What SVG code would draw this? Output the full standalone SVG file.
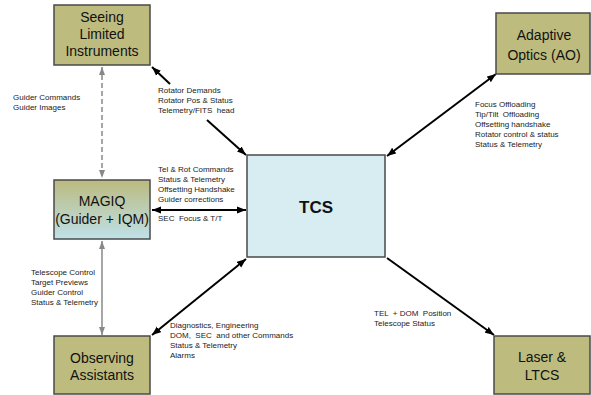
<svg xmlns="http://www.w3.org/2000/svg" width="591" height="395" viewBox="0 0 591 395">
<style>
.box{stroke:#4a4a4a;stroke-width:1.5}
.olive{fill:#bdbc7e}
.nt{font-family:"Liberation Sans",Arial,sans-serif;font-size:14px;fill:#111;text-anchor:middle}
.lb{font-family:"Liberation Sans",Arial,sans-serif;font-size:8px;fill:#222}
.blk{stroke:#000;stroke-width:2;fill:none}
.gry{stroke:#888;stroke-width:1.5;fill:none}
</style>
<defs>
<linearGradient id="gMagiq" x1="0" y1="0" x2="0" y2="1">
<stop offset="0" stop-color="#bbba7f"/>
<stop offset="1" stop-color="#bfe1e9"/>
</linearGradient>
<marker id="ab" markerUnits="userSpaceOnUse" markerWidth="10" markerHeight="8" refX="9" refY="4" orient="auto-start-reverse">
<path d="M0,0.5 L9,4 L0,7.5 z" fill="#000"/>
</marker>
<marker id="ag" markerUnits="userSpaceOnUse" markerWidth="8" markerHeight="8" refX="8" refY="3.5" orient="auto-start-reverse">
<path d="M0,0.5 L8,3.5 L0,6.5 z" fill="#888"/>
</marker>
</defs>
<rect width="591" height="395" fill="#fff"/>

<g id="connectors">
<line class="gry" x1="102" y1="67" x2="102" y2="178" stroke-dasharray="5,3" marker-start="url(#ag)" marker-end="url(#ag)"/>
<line class="gry" x1="102" y1="241" x2="102" y2="335" marker-start="url(#ag)" marker-end="url(#ag)"/>
<line class="blk" x1="170" y1="84" x2="152" y2="67" marker-end="url(#ab)"/>
<line class="blk" x1="207" y1="120" x2="246" y2="155" marker-end="url(#ab)"/>
<line class="blk" x1="152" y1="210" x2="246" y2="210" marker-start="url(#ab)" marker-end="url(#ab)"/>
<line class="blk" x1="152" y1="335" x2="246" y2="259" marker-start="url(#ab)" marker-end="url(#ab)"/>
<line class="blk" x1="387" y1="156" x2="496" y2="74" marker-start="url(#ab)" marker-end="url(#ab)"/>
<line class="blk" x1="387" y1="258" x2="494" y2="335" marker-end="url(#ab)"/>
</g>

<g id="labels">
<text class="lb" x="13" y="100">Guider Commands</text>
<text class="lb" x="13" y="110">Guider Images</text>
<text class="lb" x="158" y="93">Rotator Demands</text>
<text class="lb" x="158" y="103">Rotator Pos &amp; Status</text>
<text class="lb" x="158" y="113" xml:space="preserve">Telemetry/FITS  head</text>
<text class="lb" x="158" y="172">Tel &amp; Rot Commands</text>
<text class="lb" x="158" y="182">Status &amp; Telemetry</text>
<text class="lb" x="158" y="192">Offsetting Handshake</text>
<text class="lb" x="158" y="202">Guider corrections</text>
<text class="lb" x="158" y="221" xml:space="preserve">SEC  Focus &amp; T/T</text>
<text class="lb" x="31" y="275">Telescope Control</text>
<text class="lb" x="31" y="285">Target Previews</text>
<text class="lb" x="31" y="295">Guider Control</text>
<text class="lb" x="31" y="305">Status &amp; Telemetry</text>
<text class="lb" x="170" y="328">Diagnostics, Engineering</text>
<text class="lb" x="170" y="338" xml:space="preserve">DOM,  SEC  and other Commands</text>
<text class="lb" x="170" y="348">Status &amp; Telemetry</text>
<text class="lb" x="170" y="358">Alarms</text>
<text class="lb" x="475" y="107">Focus Offloading</text>
<text class="lb" x="475" y="117" xml:space="preserve">Tip/Tilt  Offloading</text>
<text class="lb" x="475" y="127">Offsetting handshake</text>
<text class="lb" x="475" y="137">Rotator control &amp; status</text>
<text class="lb" x="475" y="147">Status &amp; Telemetry</text>
<text class="lb" x="374" y="316" xml:space="preserve">TEL  + DOM  Position</text>
<text class="lb" x="374" y="326">Telescope Status</text>
</g>

<g id="seeing">
<rect class="box olive" x="54" y="5" width="96" height="60"/>
<text class="nt" x="102" y="22">Seeing</text>
<text class="nt" x="102" y="39">Limited</text>
<text class="nt" x="102" y="56">Instruments</text>
</g>
<g id="magiq">
<rect class="box" x="54" y="180" width="96" height="59" fill="url(#gMagiq)"/>
<text class="nt" x="102" y="206">MAGIQ</text>
<text class="nt" x="102" y="224">(Guider + IQM)</text>
</g>
<g id="observing">
<rect class="box olive" x="54" y="336" width="96" height="58"/>
<text class="nt" x="102" y="363">Observing</text>
<text class="nt" x="102" y="380">Assistants</text>
</g>
<g id="tcs">
<rect class="box" x="247" y="155" width="138" height="102" fill="#d8edf1"/>
<text class="nt" x="316" y="213" style="font-weight:bold;font-size:17px">TCS</text>
</g>
<g id="ao">
<rect class="box olive" x="496" y="13" width="94" height="61"/>
<text class="nt" x="544" y="40">Adaptive</text>
<text class="nt" x="544" y="60">Optics (AO)</text>
</g>
<g id="laser">
<rect class="box olive" x="494" y="336" width="96" height="58"/>
<text class="nt" x="542" y="362">Laser &amp;</text>
<text class="nt" x="542" y="380">LTCS</text>
</g>
</svg>
